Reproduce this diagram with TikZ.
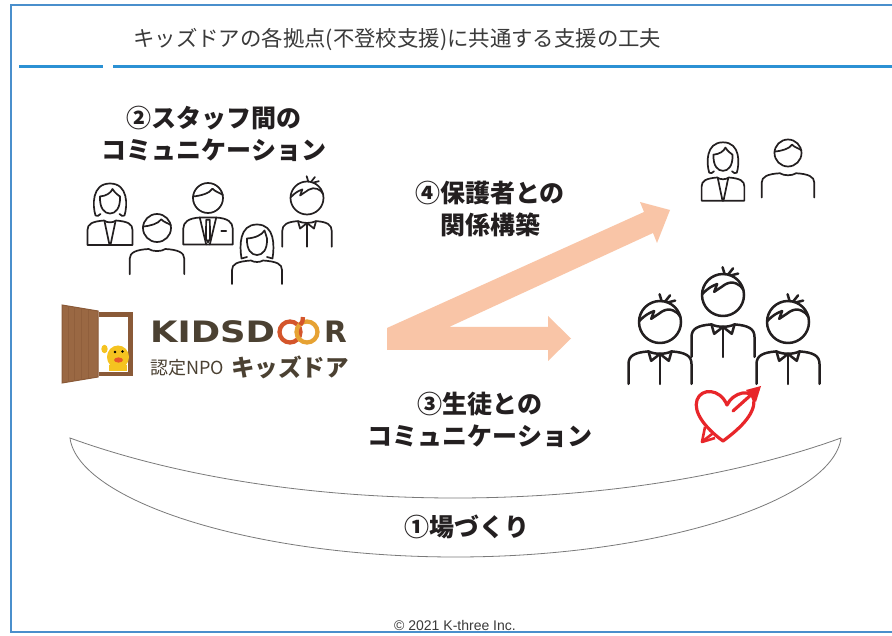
\documentclass[tikz,border=0pt]{standalone}
\usepackage{fontspec}
\usepackage{graphicx}
\newfontfamily\jp{Noto Sans CJK JP}
\newfontfamily\logofont{DejaVu Sans}
\newfontfamily\uifont{Liberation Sans}

\definecolor{frameblue}{HTML}{4A8FCC}
\definecolor{ruleblue}{HTML}{2B91D4}
\definecolor{peach}{HTML}{F9C5A7}
\definecolor{ink}{HTML}{231F20}
\definecolor{titlegray}{HTML}{3A3A3A}
\definecolor{logobrown}{HTML}{4B4132}
\definecolor{doorbrown}{HTML}{8A5A38}
\definecolor{doorleaf}{HTML}{9A6843}
\definecolor{chick}{HTML}{F5C320}
\definecolor{beak}{HTML}{E8572A}
\definecolor{ringred}{HTML}{D4552B}
\definecolor{ringgold}{HTML}{E6A233}
\definecolor{heartred}{HTML}{E8262A}
\definecolor{bowlgray}{HTML}{7A7A7A}

% head with a short fringe, drawn in head-radius units
\newcommand\fringehead{%
  \draw[person] (0,0) circle[radius=1];
  \draw[person] (-1,-0.1) .. controls (-0.5,-0.15) and (0.1,-0.3) .. (0.3,-0.62)
    .. controls (0.5,-0.4) and (0.8,-0.35) .. (0.99,-0.2);
}

\tikzset{
  person/.style={draw=ink, line width=1.7pt, line cap=round, line join=round},
  heading/.style={font=\jp\bfseries\fontsize{25}{32}\selectfont, text=ink, align=center, inner sep=0pt},
  heartline/.style={draw=heartred, line width=3.2pt, line cap=round, line join=round},
  logotext/.style={anchor=base west, inner sep=0pt, text=logobrown},
  % boy with spiky hair and a collared shirt
  pics/boy/.style={code={
    \draw[person] (0,0) circle[radius=1];
    \draw[person] (-0.98,-0.05) .. controls (-0.75,-0.3) and (-0.5,-0.45) .. (-0.28,-0.52)
      -- (-0.42,-0.15) -- (0.1,-0.5) .. controls (0.45,-0.72) and (0.85,-0.5) .. (0.97,-0.25);
    \draw[person] (0.08,-0.99) -- (-0.02,-1.32);
    \draw[person] (0.24,-0.97) -- (0.48,-1.27);
    \draw[person] (0.36,-0.93) -- (0.72,-1.02);
    \draw[person] (-1.5,2.95) -- (-1.5,2.0) .. controls (-1.5,1.6) and (-1.2,1.45) .. (-0.55,1.4)
      .. controls (-0.25,1.55) and (0.25,1.55) .. (0.55,1.4)
      .. controls (1.2,1.45) and (1.5,1.6) .. (1.5,2.0) -- (1.5,2.95);
    \draw[person] (-0.55,1.4) -- (-0.42,1.85) -- (0,1.52) -- (0.42,1.85) -- (0.55,1.4);
    \draw[person] (0,1.52) -- (0,2.95);
  }},
  % man with plain shoulders
  pics/man/.style={code={
    \fringehead
    \draw[person] (-1.95,3.3) -- (-1.95,2.2) .. controls (-1.95,1.75) and (-1.5,1.55) .. (-0.6,1.5)
      .. controls (-0.3,1.7) and (0.3,1.7) .. (0.6,1.5)
      .. controls (1.5,1.55) and (1.95,1.75) .. (1.95,2.2) -- (1.95,3.3);
  }},
  % man in a suit and tie
  pics/suitman/.style={code={
    \fringehead
    \draw[person] (-1.65,3.1) -- (-1.65,2.05) .. controls (-1.65,1.6) and (-1.3,1.35) .. (-0.55,1.3)
      -- (0.55,1.3) .. controls (1.3,1.35) and (1.65,1.6) .. (1.65,2.05) -- (1.65,3.1) -- cycle;
    \draw[person] (-0.55,1.3) -- (-0.12,3.1);
    \draw[person] (0.55,1.3) -- (0.12,3.1);
    \draw[person] (-0.12,1.45) -- (0.12,1.45) -- (0.14,2.7) -- (0,2.95) -- (-0.14,2.7) -- cycle;
    \draw[person, line width=2.2pt] (0.9,2.2) -- (1.2,2.2);
  }},
  % woman with long hair and a jacket
  pics/woman/.style={code={
    \draw[person] (-0.95,1.4) .. controls (-1.1,1.6) and (-1.3,1.65) .. (-1.45,1.55)
      .. controls (-1.75,0.6) and (-1.85,-1.65) .. (0,-1.65)
      .. controls (1.85,-1.65) and (1.75,0.6) .. (1.45,1.55)
      .. controls (1.3,1.65) and (1.1,1.6) .. (0.95,1.4);
    \draw[person] (-1,-0.35) .. controls (-1.05,0.85) and (-0.55,1.35) .. (0,1.35)
      .. controls (0.55,1.35) and (1.05,0.85) .. (1,-0.35);
    \draw[person] (-1,-0.35) .. controls (-0.4,-0.4) and (0.1,-0.7) .. (0.25,-1.1)
      .. controls (0.5,-0.7) and (0.8,-0.5) .. (1,-0.35);
    \draw[person] (-2.25,4.5) -- (-2.25,3.0) .. controls (-2.25,2.4) and (-1.8,2.15) .. (-0.6,2.05)
      .. controls (-0.3,2.3) and (0.3,2.3) .. (0.6,2.05)
      .. controls (1.8,2.15) and (2.25,2.4) .. (2.25,3.0) -- (2.25,4.5) -- cycle;
    \draw[person] (-0.55,2.12) -- (-0.05,4.5);
    \draw[person] (0.55,2.12) -- (0.05,4.5);
  }},
  % woman with bobbed hair
  pics/bobwoman/.style={code={
    \draw[person] (-1.0,1.6) -- (-1.55,1.75) .. controls (-1.75,0.5) and (-1.8,-1.65) .. (0,-1.65)
      .. controls (1.8,-1.65) and (1.75,0.5) .. (1.55,1.75) -- (1.0,1.6);
    \draw[person] (-1,-0.25) .. controls (-1.05,0.9) and (-0.55,1.4) .. (0,1.4)
      .. controls (0.55,1.4) and (1.05,0.9) .. (1,-0.25);
    \draw[person] (-1,-0.25) .. controls (-0.2,-0.3) and (0.5,-0.6) .. (0.75,-1.05)
      .. controls (0.85,-0.7) and (0.95,-0.5) .. (1,-0.25);
    \draw[person] (-2.5,4.3) -- (-2.5,2.9) .. controls (-2.5,2.3) and (-2.0,2.05) .. (-0.6,1.95)
      .. controls (-0.3,2.15) and (0.3,2.15) .. (0.6,1.95)
      .. controls (2.0,2.05) and (2.5,2.3) .. (2.5,2.9) -- (2.5,4.3);
  }},
}

\begin{document}
\begin{tikzpicture}[x=1pt, y=-1pt]
  \useasboundingbox (0,0) rectangle (892,636);
  \fill[white] (0,0) rectangle (892,636);

  % page frame and heading rule
  \draw[frameblue, line width=2.6pt] (892,5) -- (11,5) -- (11,632) -- (892,632);
  \draw[ruleblue, line width=3pt] (19,67) -- (103,67);
  \draw[ruleblue, line width=3pt] (113,67) -- (892,67);
  \node[anchor=west, inner sep=0pt, text=titlegray, font=\jp\fontsize{21.4}{24}\selectfont]
    (title) at (133,40) {キッズドアの各拠点(不登校支援)に共通する支援の工夫};

  % arrows towards parents and pupils
  \fill[peach] (387,350) -- (548,350) -- (548,361) -- (571,338.5) -- (548,316) -- (548,327)
    -- (449,327) -- (653,233) -- (657,243) -- (670,210) -- (640,202) -- (644,212) -- (387,328) -- cycle;

  % logo: open door with the chick
  \fill[doorleaf] (62,305) -- (98,311) -- (98,377) -- (62,383) -- cycle;
  \foreach \gx in {68,74,81,88}
    \draw[doorbrown, line width=0.6pt, opacity=0.6] (\gx,{306+(\gx-62)*0.17}) -- (\gx,{382-(\gx-62)*0.17});
  \draw[doorbrown, line width=1pt] (62,305) -- (98,311) -- (98,377) -- (62,383) -- cycle;
  \draw[doorbrown, line width=4.5pt] (99,314.5) -- (130.5,314.5) -- (130.5,374) -- (99,374);
  \fill[chick] (118,357) ellipse[x radius=11, y radius=11.5];
  \fill[chick] (109,365) rectangle (127,371.5);
  \fill[chick] (104.5,349) ellipse[x radius=3.2, y radius=4.2];
  \fill[black] (115,352) circle[radius=1.4];
  \fill[black] (122.5,351.5) circle[radius=1.4];
  \fill[beak] (118.5,360) ellipse[x radius=4.5, y radius=2.6];
  \node[logotext, font=\logofont\bfseries\fontsize{29.5}{32}\selectfont]
    (kidsd) at (150,343) {\scalebox{1.2}[1]{KIDSD}};
  \draw[ringred, line width=4.3pt] (290,332) circle[radius=10.5];
  \draw[ringgold, line width=4.3pt] (307,332) circle[radius=10.5];
  \draw[ringred, line width=4.3pt] (300.3,325) arc[start angle=42, end angle=-5, radius=10.5];
  \node[logotext, font=\logofont\bfseries\fontsize{29.5}{32}\selectfont]
    (rletter) at (324,343) {R};
  \node[logotext, font=\jp\fontsize{18}{20}\selectfont] (npo) at (150,374) {認定NPO};
  \node[logotext, font=\jp\bfseries\fontsize{23.5}{26}\selectfont] (kana) at (231,377) {キッズドア};

  % staff
  \pic[scale=10] at (110,200) {woman};
  \pic[scale=14] at (157,228) {man};
  \pic[scale=15] at (208,198) {suitman};
  \pic[scale=10] at (257,241) {bobwoman};
  \pic[scale=16.5] at (307,198) {boy};

  % parents
  \pic[scale=9.5] at (723,158) {woman};
  \pic[scale=13.5] at (788,153) {man};

  % pupils
  \pic[scale=21, person/.append style={line width=2.5pt}] at (723,295) {boy};
  \pic[scale=21, person/.append style={line width=2.5pt}] at (660,322) {boy};
  \pic[scale=21, person/.append style={line width=2.5pt}] at (788,322) {boy};

  % heart pierced by an arrow
  \draw[heartline] (723,441) .. controls (705,428) and (693,412) .. (697,400)
    .. controls (701,388) and (720,388) .. (727,405)
    .. controls (733,392) and (752,388) .. (754,400)
    .. controls (755,415) and (738,430) .. (723,441) -- cycle;
  \draw[heartline] (733,411) -- (752,394);
  \fill[heartred] (761,386) -- (746,390) -- (756,402) -- cycle;
  \draw[heartred, line width=2.6pt, line join=round] (705,427) -- (702,442) -- (715,438);
  \draw[heartred, line width=2.6pt, line cap=round] (703,441) -- (712,434);

  % the base everything rests on
  \draw[bowlgray, line width=0.8pt] (70,438) .. controls (290,518) and (620,518) .. (841,438)
    .. controls (833,500) and (660,557) .. (455.5,557)
    .. controls (250,557) and (78,500) .. (70,438) -- cycle;

  % headings
  \node[heading] (staff) at (214,134) {②スタッフ間の\\コミュニケーション};
  \node[heading] (parents) at (490,209) {④保護者との\\関係構築};
  \node[heading] (pupils) at (480,420) {③生徒との\\コミュニケーション};
  \node[heading] (place) at (467,527) {①場づくり};

  \node[inner sep=0pt, text=titlegray, font=\uifont\fontsize{14}{16}\selectfont]
    (copy) at (455,625) {© 2021 K-three Inc.};
\end{tikzpicture}
\end{document}
